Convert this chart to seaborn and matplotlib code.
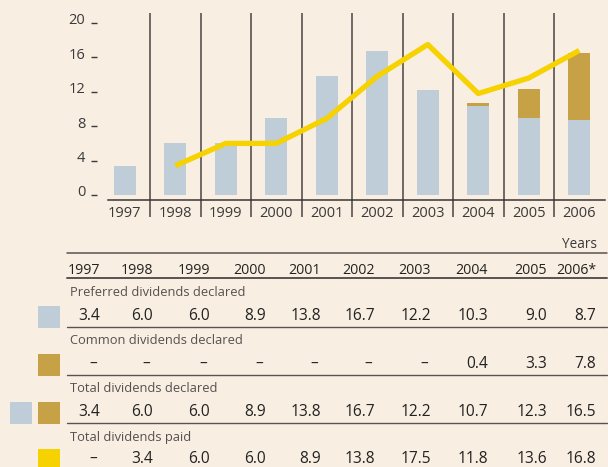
import numpy as np
import pandas as pd
import matplotlib
matplotlib.use("Agg")
import matplotlib.pyplot as plt
from matplotlib.transforms import ScaledTranslation
from matplotlib.patches import Rectangle
import seaborn as sns

# Dividends, in billions
years = ["1997", "1998", "1999", "2000", "2001", "2002", "2003", "2004", "2005", "2006"]
year_headers = ["1997", "1998", "1999", "2000", "2001", "2002", "2003", "2004", "2005", "2006*"]
preferred = [3.4, 6.0, 6.0, 8.9, 13.8, 16.7, 12.2, 10.3, 9.0, 8.7]
common = [None, None, None, None, None, None, None, 0.4, 3.3, 7.8]
total_declared = [3.4, 6.0, 6.0, 8.9, 13.8, 16.7, 12.2, 10.7, 12.3, 16.5]
total_paid = [None, 3.4, 6.0, 6.0, 8.9, 13.8, 17.5, 11.8, 13.6, 16.8]
y_ticks = [0, 4, 8, 12, 16, 20]

BG = "#F8EEE2"
BLUE = "#BFCDD9"
GOLD = "#C7A145"
YELLOW = "#F5D200"
INK = "#3a3a3a"
RULE = "#5a5252"

sns.set_theme(style="white")
plt.rcParams["font.family"] = ["Open Sans", "DejaVu Sans"]

W, H = 608, 467
fig = plt.figure(figsize=(W / 100, H / 100), dpi=100, facecolor=BG)


def fx(x):
    return x / W


def fy(y):
    return 1 - y / H


# ---- chart ----
left, right, top, bottom = 108, 605, 13, 200
ax = fig.add_axes([fx(left), fy(bottom), (right - left) / W, (bottom - top) / H])
ax.set_facecolor(BG)

df = pd.DataFrame({
    "year": years,
    "preferred": preferred,
    "total_declared": total_declared,
    "total_paid": [np.nan if v is None else v for v in total_paid],
})
df["pos"] = np.arange(len(years))

# Total declared underneath, preferred on top: the exposed part is common dividends
sns.barplot(data=df, x="year", y="total_declared", color=GOLD, width=0.44,
            saturation=1, ax=ax, zorder=2, linewidth=0, edgecolor="none")
sns.barplot(data=df, x="year", y="preferred", color=BLUE, width=0.44,
            saturation=1, ax=ax, zorder=3, linewidth=0, edgecolor="none")
paid = df.dropna(subset=["total_paid"])
sns.lineplot(x=paid["pos"].to_numpy(), y=paid["total_paid"].to_numpy(), color=YELLOW,
             linewidth=3.8, ax=ax, zorder=4, solid_capstyle="butt")

px_per_unit = 8.6
ax.set_ylim(-5 / px_per_unit, (195 - top) / px_per_unit)
ax.set_xlim((left - 124.75) / 50.5, (right - 124.75) / 50.5)

# Separators between years, running past the axis line
ax.vlines(np.arange(len(years) - 1) + 0.5, -17 / (bottom - top), 1,
          transform=ax.get_xaxis_transform(), colors="#4a4444", linewidth=1.1,
          clip_on=False, zorder=1)

for s in ["top", "right"]:
    ax.spines[s].set_visible(False)
ax.spines["left"].set_visible(False)
ax.spines["left"].set_position(("outward", 8))
ax.spines["bottom"].set_color("#3a3434")
ax.spines["bottom"].set_linewidth(1.1)

ax.set_xlabel("")
ax.set_ylabel("")
ax.set_xticks(range(len(years)))
ax.set_xticklabels(years)
ax.tick_params(axis="x", length=0, pad=4, labelsize=10.5, labelcolor=INK)
ax.set_yticks(y_ticks)
ax.set_yticklabels([str(t) for t in y_ticks])
ax.tick_params(axis="y", left=True, length=4.3, width=1.0, color=INK, direction="out",
               pad=4.0, labelsize=10.5, labelcolor=INK)
for lab in ax.get_yticklabels():
    lab.set_transform(lab.get_transform() + ScaledTranslation(0, 3 / 72, fig.dpi_scale_trans))
ax.grid(False)

# ---- table ----
col_right = [100, 153, 210, 266, 321, 375, 431, 488, 547, 596]
rule_x0, rule_x1 = 67, 607


def hrule(y, lw=1.0, color=RULE):
    fig.add_artist(plt.Line2D([fx(rule_x0), fx(rule_x1)], [fy(y), fy(y)],
                              color=color, linewidth=lw))


def swatch(x, y, color):
    fig.add_artist(Rectangle((fx(x), fy(y + 22)), 22 / W, 22 / H,
                             facecolor=color, edgecolor="none"))


def fmt(v):
    return "–" if v is None else f"{v:.1f}"


fig.text(fx(597), fy(245), "Years", ha="right", va="center", fontsize=9.8, color=INK)
hrule(253, lw=1.1)
for xr, label in zip(col_right, year_headers):
    fig.text(fx(xr), fy(270), label, ha="right", va="center", fontsize=10.2,
             color="#222222")
hrule(278, lw=1.4)

rows = [
    ("Preferred dividends declared", preferred, 292, 316, [BLUE]),
    ("Common dividends declared", common, 341, 364, [GOLD]),
    ("Total dividends declared", total_declared, 389, 412, [BLUE, GOLD]),
    ("Total dividends paid", total_paid, 437, 459, [YELLOW]),
]
for i, (title, values, ty, vy, colors) in enumerate(rows):
    fig.text(fx(70), fy(ty), title, ha="left", va="center", fontsize=9.3, color="#555050")
    for xr, v in zip(col_right, values):
        fig.text(fx(xr - (3 if v is None else 0)), fy(vy), fmt(v), ha="right", va="center",
                 fontsize=11.2, color="#222222")
    sx = 38
    for c in reversed(colors):
        swatch(sx, vy - 10, c)
        sx -= 28
    if i < len(rows) - 1:
        hrule(vy + 11)

fig.savefig("out.png", dpi=100, facecolor=BG)
